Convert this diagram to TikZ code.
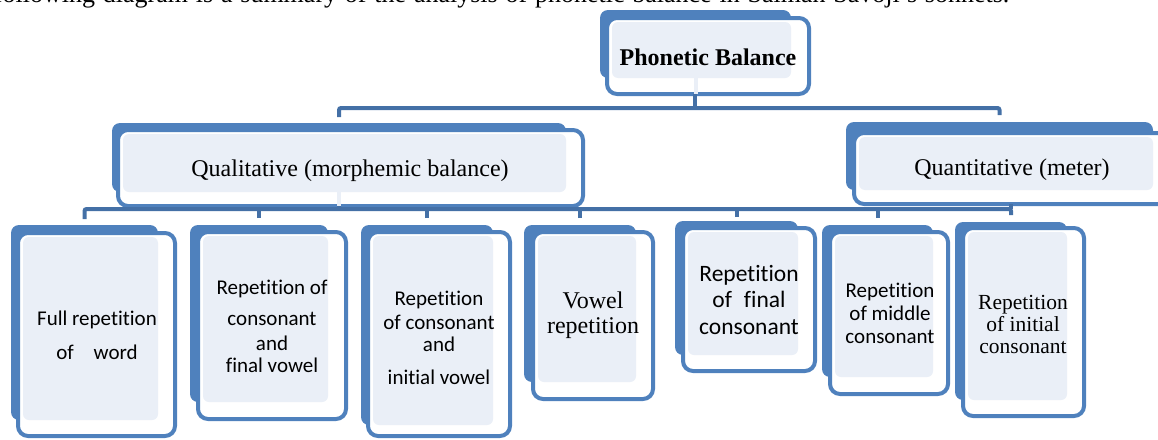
\documentclass[tikz,border=0pt]{standalone}
\usepackage{fontspec}
\setmainfont{Liberation Serif}
\newfontfamily\calibri[Ligatures=NoCommon]{Carlito}
\usetikzlibrary{fit,calc}
\definecolor{boxblue}{HTML}{4F81BD}
\definecolor{connblue}{HTML}{4470A6}
\definecolor{lightfill}{HTML}{EAEFF7}
\tikzset{
  backbox/.style={fill=boxblue, draw=none, rounded corners=8pt, inner sep=0pt, outer sep=0pt},
  frontbox/.style={fill=white, draw=boxblue, line width=4pt, rounded corners=10pt, inner sep=0pt, outer sep=0pt},
  lightbox/.style={fill=lightfill, draw=none, rounded corners=6pt, inner sep=0pt, outer sep=0pt},
  conn/.style={draw=connblue, line width=4pt, rounded corners=2pt},
  hidconn/.style={draw=lightfill, line width=4pt},
  lbl/.style={inner sep=0pt, outer sep=0pt, align=center, text=black},
}
% name, back x1, y1, x2, y2, front dx, dy, front x2, y2
\newcommand\stackbox[9]{%
  \pgfmathsetmacro\fxa{#2+#6}\pgfmathsetmacro\fya{#3+#7}%
  \pgfmathsetmacro\lxa{#2+#6+5}\pgfmathsetmacro\lya{#3+#7+4}%
  \node[backbox, fit={(#2,#3) (#4,#5)}] (#1-back) {};
  \node[frontbox, fit={(\fxa,\fya) (#8,#9)}] (#1-front) {};
  \node[lightbox, fit={(\lxa,\lya) (#4,#5)}] (#1-light) {};
}
\begin{document}
\begin{tikzpicture}[x=1pt,y=-1pt]
\useasboundingbox (0,0) rectangle (1158,439);

% cropped line of the paragraph above
\node[lbl, anchor=base west, font=\fontsize{26}{30}\selectfont] (intro) at (-6,2.5)
  {\spaceskip=7.8pt following diagram is a summary of the analysis of phonetic balance in Salman Savoji's sonnets.};

% boxes
\stackbox{phon}{600}{10}{791}{78}{7}{8}{809}{94}
\stackbox{qual}{112}{123}{566}{192}{6}{7}{583}{206}
\stackbox{quan}{846}{122}{1153}{190}{8}{11}{1175}{204}
\stackbox{b1}{11}{225}{158}{420}{7}{8}{175}{436}
\stackbox{b2}{190}{225}{328}{402}{8}{7}{346}{419}
\stackbox{b3}{361}{225}{493}{425}{7}{7}{510}{436}
\stackbox{b4}{524}{225}{636}{382}{9}{7}{653}{399}
\stackbox{b5}{675}{221}{798}{355}{8}{7}{815}{371}
\stackbox{b6}{822}{225}{933}{377}{8}{7}{948}{394}
\stackbox{b7}{955}{222}{1067}{400}{8}{6}{1084}{416}

% hidden (light) connector stubs inside the parent boxes
\draw[hidconn] (phon-back.south) -- (phon-front.south -| phon-back.south);
\draw[hidconn] (qual-back.south) -- (qual-front.south -| qual-back.south);

% level 1 connectors
\coordinate (bus1) at (695,108);
\draw[conn] (phon-front.south -| bus1) -- (bus1);
\draw[conn] ($(qual-back.north)+(0,-6)$) |- (bus1) -| ($(quan-back.north)+(0,-7)$);

% level 2 connectors
\coordinate (bus2) at (339,209);
\draw[conn] (qual-front.south -| bus2) -- (bus2);
\draw[conn] ($(b1-back.north)+(0,-6)$) |- (bus2) -| ($(b7-back.north)+(0,-7)$);
\draw[conn] (quan-front.south -| b7-back.north) -- (b7-back.north |- bus2);
\foreach \b/\g in {b2/7,b3/7,b4/7,b5/4,b6/7}
  \draw[conn] ($(\b-back.north)+(0,-\g)$) -- (\b-back.north |- bus2);

% labels
\node[lbl, font=\bfseries\fontsize{24}{28}\selectfont] (phon-t) at (708,57) {Phonetic Balance};
\node[lbl, font=\fontsize{24}{28}\selectfont] (qual-t) at (350,171) {Qualitative (morphemic balance)};
\node[lbl, font=\fontsize{24}{28}\selectfont] (quan-t) at (1012,170) {Quantitative (meter)};

\node[lbl, font=\calibri\fontsize{21}{34}\selectfont] (b1-t) at (97,335)
  {Full repetition\\of\hspace{20pt}word};
\node[lbl, font=\calibri\fontsize{21}{24}\selectfont] (b2-t) at (272,326)
  {Repetition of\\[7pt]consonant\\[1pt]and\\[-2pt]final vowel};
\node[lbl, font=\calibri\fontsize{21}{23}\selectfont] (b3-t) at (439,337.5)
  {Repetition\\[1pt]of consonant\\[-1pt]and\\[10pt]initial vowel};
\node[lbl, font=\fontsize{24}{25}\selectfont] (b4-t) at (593,315.5)
  {Vowel\\repetition};
\node[lbl, font=\calibri\fontsize{23.5}{26.5}\selectfont] (b5-t) at (749,299.5)
  {Repetition\\of\hspace{12pt}final\\consonant};
\node[lbl, font=\calibri\fontsize{21}{23}\selectfont] (b6-t) at (890,313)
  {Repetition\\of middle\\consonant};
\node[lbl, font=\fontsize{21.5}{22}\selectfont] (b7-t) at (1023,324)
  {Repetition\\of initial\\consonant};
\end{tikzpicture}
\end{document}
